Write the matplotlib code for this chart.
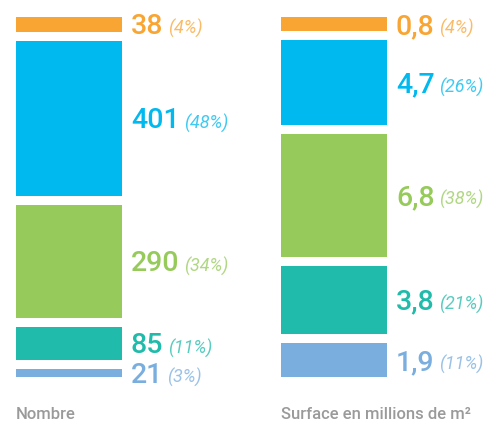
import matplotlib
matplotlib.use("Agg")
import matplotlib.pyplot as plt

columns = ["Nombre", "Surface en millions de m²"]
nombre = [38, 401, 290, 85, 21]
surface = [0.8, 4.7, 6.8, 3.8, 1.9]
pct_nombre = [4, 48, 34, 11, 3]
pct_surface = [4, 26, 38, 21, 11]
colors = ["#F9A533", "#00B9EE", "#96CA5A", "#20BBAA", "#7AAEDE"]

gap = 2.8      # space between segments, in percent units
width = 0.4

def fmt(v):
    if isinstance(v, float):
        return ("%.1f" % v).replace(".", ",")
    return str(v)

fig = plt.figure(figsize=(4.94, 4.22), dpi=100)
ax = fig.add_axes([0, 0, 1, 1])
ax.set_xlim(-0.26, 1.604)
ax.set_ylim(125, -5.25)
ax.axis("off")

for i, (vals, pcts) in enumerate([(nombre, pct_nombre), (surface, pct_surface)]):
    total = sum(vals)
    top = 0
    for v, p, c in zip(vals, pcts, colors):
        h = 100 * v / total
        ax.bar(i, h, width=width, bottom=top, color=c, align="center")
        yc = top + h / 2
        num = ax.annotate(fmt(v), xy=(i + width / 2, yc), xytext=(6.5, -7),
                          textcoords="offset points", va="baseline", ha="left",
                          color=c, fontsize=20.5, family="Roboto", weight="medium")
        ax.annotate("(%d%%)" % p, xy=(1, yc), xycoords=(num, "data"),
                    xytext=(3, -7), textcoords="offset points", va="baseline",
                    ha="left", color=c, alpha=0.75, fontsize=13, family="Roboto",
                    style="italic", weight="normal")
        top += h + gap
    ax.annotate(columns[i], xy=(i - width / 2, top - gap), xytext=(0, -27),
                textcoords="offset points", va="center", ha="left",
                color="#9a9a9a", fontsize=12, family="Roboto", weight="medium")

fig.savefig("out.png", dpi=100)
